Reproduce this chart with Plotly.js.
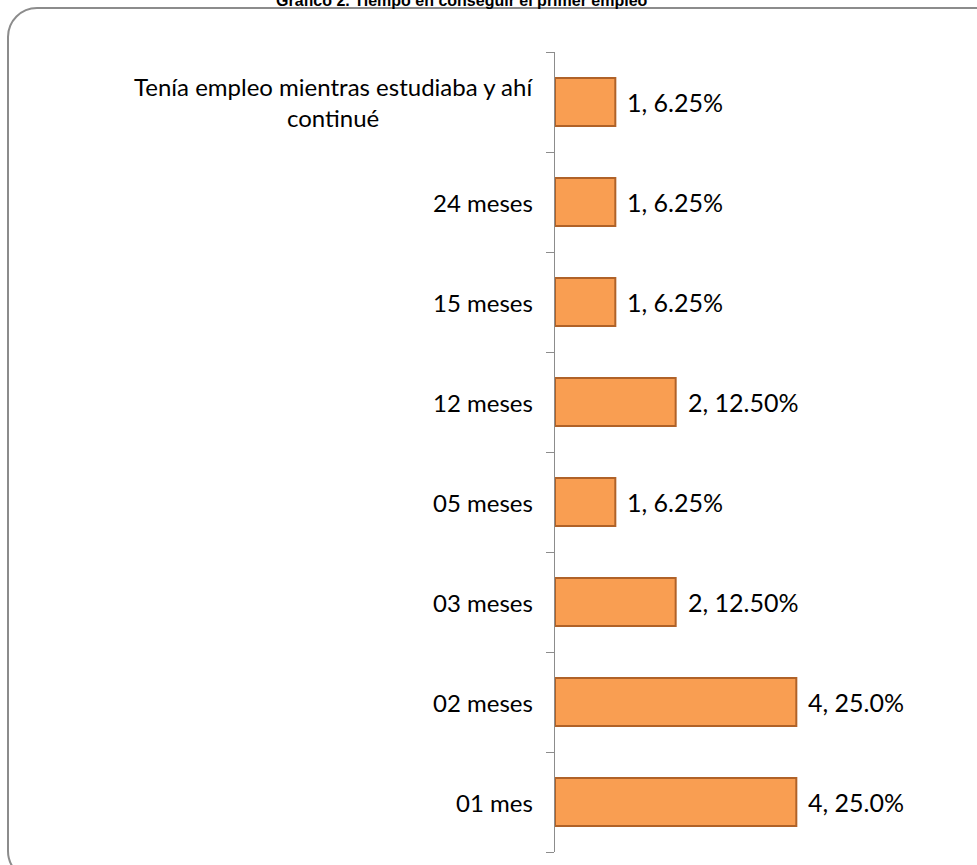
<!DOCTYPE html>
<html>
<head>
<meta charset="utf-8">
<script src="https://cdn.plot.ly/plotly-3.0.1.min.js"></script>
<style>
  html, body { margin:0; padding:0; background:#fff; }
  #wrap { position:relative; width:977px; height:865px; overflow:hidden; }
  #frame { position:absolute; left:7px; top:7px; width:1000px; height:874px;
           border:2px solid #8c8c8c; border-radius:30px; box-sizing:border-box; }
  #chart { position:absolute; left:0; top:0; width:977px; height:865px; }
</style>
</head>
<body>
<div id="wrap">
  <div id="frame"></div>
  <div id="chart"></div>
</div>
<script>
const chartTitle = "Gráfico 2. Tiempo en conseguir el primer empleo";
const categories = ["01 mes", "02 meses", "03 meses", "05 meses", "12 meses", "15 meses", "24 meses",
                    "Tenía empleo mientras estudiaba y ahí<br>continué"];
const counts = [4, 4, 2, 1, 2, 1, 1, 1];
const percents = ["25.0%", "25.0%", "12.50%", "6.25%", "12.50%", "6.25%", "6.25%", "6.25%"];

const FONT = "Lato, 'Open Sans', sans-serif";
const ml = 555, mr = 60;

const bars = {
  type: "bar",
  orientation: "h",
  y: categories,
  x: counts,
  marker: { color: "rgb(249,158,82)", line: { color: "rgb(176,98,40)", width: 2 } },
  hoverinfo: "skip"
};

const annotations = [];
categories.forEach((c, i) => {
  annotations.push({
    xref: "paper", yref: "y", x: 0, y: c, xanchor: "right", yanchor: "middle",
    xshift: -20, text: c, align: "center", showarrow: false,
    font: { family: FONT, size: 24, color: "#000" }
  });
  annotations.push({
    xref: "x", yref: "y", x: counts[i], y: c, xanchor: "left", yanchor: "middle",
    xshift: 10, text: counts[i] + ", " + percents[i], showarrow: false,
    font: { family: FONT, size: 25, color: "#000" }
  });
});
annotations.push({
  xref: "paper", yref: "paper", x: (462 - ml) / (977 - ml - mr), y: 1,
  xanchor: "center", yanchor: "bottom",
  text: "<b>" + chartTitle + "</b>", showarrow: false, yshift: 41,
  font: { family: "'Liberation Sans', Arial, sans-serif", size: 16, color: "#000" }
});

const layout = {
  width: 977, height: 865,
  margin: { l: ml, r: mr, t: 52, b: 13 },
  paper_bgcolor: "rgba(0,0,0,0)",
  plot_bgcolor: "rgba(0,0,0,0)",
  showlegend: false,
  bargap: 0.52,
  xaxis: { range: [0, 6], showgrid: false, zeroline: false, showline: false,
           showticklabels: false, ticks: "" },
  yaxis: { type: "category", showgrid: false, zeroline: false, showline: true,
           linecolor: "#8c8c8c", linewidth: 1, ticks: "outside", tickson: "boundaries",
           ticklen: 8, tickcolor: "#8c8c8c", tickwidth: 1, showticklabels: false },
  annotations: annotations
};

Plotly.newPlot("chart", [bars], layout, { displayModeBar: false, staticPlot: true });
</script>
</body>
</html>
